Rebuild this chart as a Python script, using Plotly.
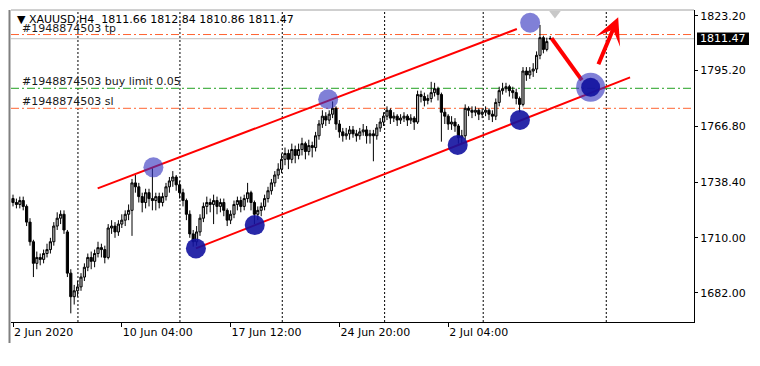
import plotly.graph_objects as go

# ---------------- data ----------------
bar_index = list(range(159))
open_ = [1730,1728,1727,1729,1726,1718,1708,1697,1700,1699,
         1702,1704,1708,1716,1720,1722,1713,1692,1680,1683,
         1685,1690,1695,1700,1698,1702,1705,1704,1700,1715,
         1716,1713,1717,1719,1722,1724,1738,1736,1731,1728,
         1733,1730,1729,1731,1728,1731,1736,1739,1741,1737,
         1733,1729,1722,1712,1708,1713,1720,1726,1728,1727,
         1729,1726,1728,1724,1719,1722,1727,1729,1726,1730,
         1733,1728,1722,1724,1726,1730,1734,1738,1742,1745,
         1750,1753,1750,1755,1752,1755,1758,1754,1757,1756,
         1762,1768,1772,1770,1773,1776,1768,1764,1762,1763,
         1765,1763,1762,1764,1765,1762,1763,1762,1766,1769,
         1772,1775,1771,1772,1770,1771,1772,1770,1771,1769,
         1783,1782,1780,1781,1784,1786,1783,1774,1772,1768,
         1769,1767,1761,1762,1776,1775,1774,1775,1773,1774,
         1775,1773,1772,1779,1785,1786,1787,1785,1784,1781,
         1778,1795,1793,1795,1796,1803,1812,1806,1811.66]
high = [1732,1730,1731,1731,1727,1720,1709,1703,1702,1704,
        1707,1710,1718,1723,1724,1724,1714,1694,1686,1688,
        1692,1697,1702,1703,1704,1708,1707,1706,1717,1719,
        1718,1719,1722,1724,1727,1740,1742,1738,1733,1735,
        1735,1745.5,1733,1733,1733,1738,1741,1744,1742,1739,
        1735,1730,1724,1714,1716,1722,1728,1731,1730,1732,
        1731,1730,1730,1725,1724,1729,1731,1731,1732,1738,
        1734,1729,1726,1728,1732,1736,1740,1744,1748,1753,
        1756,1755,1758,1757,1758,1761,1759,1760,1759,1764,
        1770,1775,1774,1775,1779.5,1777,1770,1766,1766,1767,
        1767,1765,1766,1768,1767,1765,1765,1768,1771,1774,
        1777,1776,1774,1773,1773,1774,1773,1773,1772,1785,
        1785,1784,1783,1789.5,1789,1787,1784,1776,1773,1772,
        1771,1768,1765,1778,1777,1777,1777,1776,1776,1777,
        1776,1775,1781,1787,1789,1789,1788,1787,1786,1782,
        1797,1797,1797,1799,1805,1818.5,1813,1812,1812.84]
low = [1726,1725,1725,1724,1716,1706,1690,1694,1696,1697,
       1700,1702,1706,1714,1717,1712,1690,1671.5,1676,1680,
       1683,1688,1693,1694,1695,1700,1700,1697,1699,1712,
       1710,1711,1715,1716,1719,1711,1733,1728,1723,1725,
       1726,1724,1724,1725,1726,1729,1733,1736,1734,1730,
       1726,1719,1710,1705.5,1706,1711,1718,1722,1723,1717,
       1722,1723,1721,1716,1717,1720,1724,1723,1724,1728,
       1724,1717,1719,1721,1724,1728,1732,1736,1740,1743,
       1747,1745,1748,1748,1750,1752,1750,1752,1751,1754,
       1760,1766,1767,1768,1771,1765,1761,1759,1760,1760,
       1761,1759,1760,1762,1758,1758,1749,1760,1764,1767,
       1770,1768,1769,1767,1768,1769,1767,1768,1765,1768,
       1779,1777,1778,1779,1782,1780,1759,1768,1765,1765,
       1764,1758,1758,1760,1772,1771,1772,1770,1771,1772,
       1770,1769,1770,1777,1783,1784,1782,1781,1778,1774,
       1777,1790,1791,1792,1794,1801,1804,1805,1810.86]
close = [1728,1727,1729,1726,1718,1708,1697,1700,1699,1702,
         1704,1708,1716,1720,1722,1714,1692,1680,1683,1685,
         1690,1695,1700,1698,1702,1705,1704,1700,1715,1716,
         1713,1717,1719,1722,1724,1738,1736,1731,1728,1733,
         1730,1729,1731,1728,1731,1736,1739,1741,1737,1733,
         1729,1722,1712,1708,1713,1720,1726,1728,1727,1729,
         1726,1728,1724,1719,1722,1727,1729,1726,1730,1733,
         1728,1722,1724,1726,1730,1734,1738,1742,1745,1750,
         1753,1750,1755,1752,1755,1758,1754,1757,1756,1762,
         1768,1772,1770,1773,1776,1768,1764,1762,1763,1765,
         1763,1762,1764,1765,1762,1763,1762,1766,1769,1772,
         1775,1771,1772,1770,1771,1772,1770,1771,1769,1783,
         1782,1780,1781,1784,1786,1783,1774,1772,1768,1769,
         1767,1761,1762,1776,1775,1774,1775,1773,1774,1775,
         1773,1772,1779,1785,1786,1787,1785,1784,1781,1778,
         1795,1793,1795,1796,1803,1812,1806,1810,1811.47]

x_tick_pos = [0, 32, 64, 96, 128]
x_tick_labels = ["2 Jun 2020", "10 Jun 04:00", "17 Jun 12:00", "24 Jun 20:00", "2 Jul 04:00"]
y_tick_vals = [1823.20, 1795.20, 1766.80, 1738.40, 1710.00, 1682.00]
y_tick_labels = ["1823.20", "1795.20", "1766.80", "1738.40", "1710.00", "1682.00"]
grid_x = [19.1, 49.1, 79.2, 109.3, 138.3, 174.5]

tp_price = 1813.6
buy_limit_price = 1786.2
sl_price = 1776.0
last_price = 1811.47
header = "▼ XAUUSD,H4  1811.66 1812.84 1810.86 1811.47"
order_id = "#1948874503"

upper_x = [24.9, 148.2]
upper_y = [1735.2, 1816.4]
lower_x = [53.8, 181.5]
lower_y = [1704.6, 1791.8]
path_x = [158.4, 167.3]
path_y = [1811.7, 1790.4]
arrow_tail = (172.0, 1797.7)
arrow_tip = (178.0, 1822.4)
light_x = [41.3, 92.7, 152.1]
light_y = [1745.9, 1780.6, 1819.6]
dark_x = [53.8, 71.1, 130.8, 149.1]
dark_y = [1704.6, 1716.5, 1757.3, 1770.1]
entry_x = [169.9]
entry_y = [1786.7]
marker_x = [159.4]
marker_y = [1824.3]

FONT = "DejaVu Sans"
X_RANGE = [-0.59, 200.3]
Y_RANGE = [1667.1, 1826.1]

fig = go.Figure()
fig.add_trace(go.Candlestick(
    x=bar_index, open=open_, high=high, low=low, close=close,
    increasing=dict(line=dict(color="#000000", width=1), fillcolor="#b8b8b8"),
    decreasing=dict(line=dict(color="#000000", width=1), fillcolor="#000000"),
    whiskerwidth=0, hoverinfo="skip", showlegend=False))

for xs, ys in [(upper_x, upper_y), (lower_x, lower_y)]:
    fig.add_trace(go.Scatter(x=xs, y=ys, mode="lines",
                             line=dict(color="#ff0000", width=2), hoverinfo="skip"))
fig.add_trace(go.Scatter(x=path_x, y=path_y, mode="lines",
                         line=dict(color="#ff0000", width=4), hoverinfo="skip"))

fig.add_trace(go.Scatter(x=light_x, y=light_y, mode="markers",
                         marker=dict(size=20, color="rgba(50,50,190,0.62)", line=dict(width=0)),
                         hoverinfo="skip"))
fig.add_trace(go.Scatter(x=dark_x, y=dark_y, mode="markers",
                         marker=dict(size=20, color="rgba(18,18,160,0.9)", line=dict(width=0)),
                         hoverinfo="skip"))
fig.add_trace(go.Scatter(x=entry_x, y=entry_y, mode="markers",
                         marker=dict(size=29, color="rgba(50,50,190,0.62)", line=dict(width=0)),
                         hoverinfo="skip"))
fig.add_trace(go.Scatter(x=entry_x, y=entry_y, mode="markers",
                         marker=dict(size=19, color="rgba(18,18,160,0.92)", line=dict(width=0)),
                         hoverinfo="skip"))
fig.add_trace(go.Scatter(x=marker_x, y=marker_y, mode="markers", cliponaxis=False,
                         marker=dict(size=10, symbol="triangle-down", color="#c8c8c8", line=dict(width=0)),
                         hoverinfo="skip"))

shapes = []
for gx in grid_x:
    shapes.append(dict(type="line", xref="x", yref="paper", x0=gx, x1=gx, y0=0, y1=1,
                       line=dict(color="#000000", width=1, dash="2px,2px"), layer="below"))
for price, col in [(tp_price, "#ff6432"), (buy_limit_price, "#20a020"), (sl_price, "#ff6432")]:
    shapes.append(dict(type="line", xref="paper", yref="y", x0=0, x1=1, y0=price, y1=price,
                       line=dict(color=col, width=1, dash="8px,3px,2px,3px"), layer="below"))
shapes.append(dict(type="line", xref="paper", yref="y", x0=0, x1=1, y0=last_price, y1=last_price,
                   line=dict(color="#c0c0c0", width=1), layer="below"))
# frame
shapes.append(dict(type="line", xref="paper", yref="paper", x0=0, x1=1, y0=1, y1=1,
                   line=dict(color="#a0a0a0", width=1)))
shapes.append(dict(type="line", xref="paper", yref="paper", x0=-0.0022, x1=-0.0022, y0=1, y1=-0.067,
                   line=dict(color="#808080", width=2)))
# current price box
shapes.append(dict(type="rect", xref="paper", yref="y", x0=1.0044, x1=1.0805,
                   y0=last_price - 3.2, y1=last_price + 3.2,
                   fillcolor="#000000", line=dict(width=0)))

annotations = [
    dict(xref="paper", yref="paper", x=0.0059, y=0.968, xanchor="left", yanchor="middle",
         text=header, showarrow=False, font=dict(family=FONT, size=11, color="#000000")),
    dict(xref="paper", yref="paper", x=0.0132, y=0.942, xanchor="left", yanchor="middle",
         text=order_id + " tp", showarrow=False, font=dict(family=FONT, size=11, color="#1a1a1a")),
    dict(xref="paper", yref="paper", x=0.0132, y=0.772, xanchor="left", yanchor="middle",
         text=order_id + " buy limit 0.05", showarrow=False, font=dict(family=FONT, size=11, color="#1a1a1a")),
    dict(xref="paper", yref="paper", x=0.0132, y=0.708, xanchor="left", yanchor="middle",
         text=order_id + " sl", showarrow=False, font=dict(family=FONT, size=11, color="#1a1a1a")),
    dict(xref="paper", yref="y", x=1.0425, y=last_price, xanchor="center", yanchor="middle",
         text=f"{last_price:.2f}", showarrow=False, font=dict(family=FONT, size=11, color="#ffffff")),
    dict(xref="x", yref="y", x=arrow_tip[0], y=arrow_tip[1], axref="x", ayref="y",
         ax=arrow_tail[0], ay=arrow_tail[1], text="", showarrow=True,
         arrowhead=3, arrowsize=1.1, arrowwidth=4, arrowcolor="#ff0000"),
]

fig.update_layout(
    width=760, height=366,
    margin=dict(l=11, r=66, t=10, b=44, pad=0, autoexpand=False),
    paper_bgcolor="#ffffff", plot_bgcolor="#ffffff",
    showlegend=False, boxgap=0.25, boxgroupgap=0.15,
    shapes=shapes, annotations=annotations,
    font=dict(family=FONT, size=11, color="#000000"),
    xaxis=dict(range=X_RANGE, showgrid=False, zeroline=False, showline=True, automargin=False,
               linecolor="#000000", linewidth=1, ticks="outside", ticklen=4,
               tickcolor="#000000", tickvals=x_tick_pos, ticktext=x_tick_labels,
               ticklabelposition="outside right", rangeslider=dict(visible=False),
               tickfont=dict(family=FONT, size=11, color="#000000")),
    yaxis=dict(range=Y_RANGE, side="right", showgrid=False, zeroline=False, showline=True, automargin=False,
               linecolor="#000000", linewidth=1, ticks="outside", ticklen=3,
               tickcolor="#000000", tickvals=y_tick_vals, ticktext=y_tick_labels,
               tickfont=dict(family=FONT, size=11, color="#000000")),
)

fig.write_html("out.html", config={"displayModeBar": False},
               post_script="document.body.style.margin='0';document.body.style.padding='0';")
